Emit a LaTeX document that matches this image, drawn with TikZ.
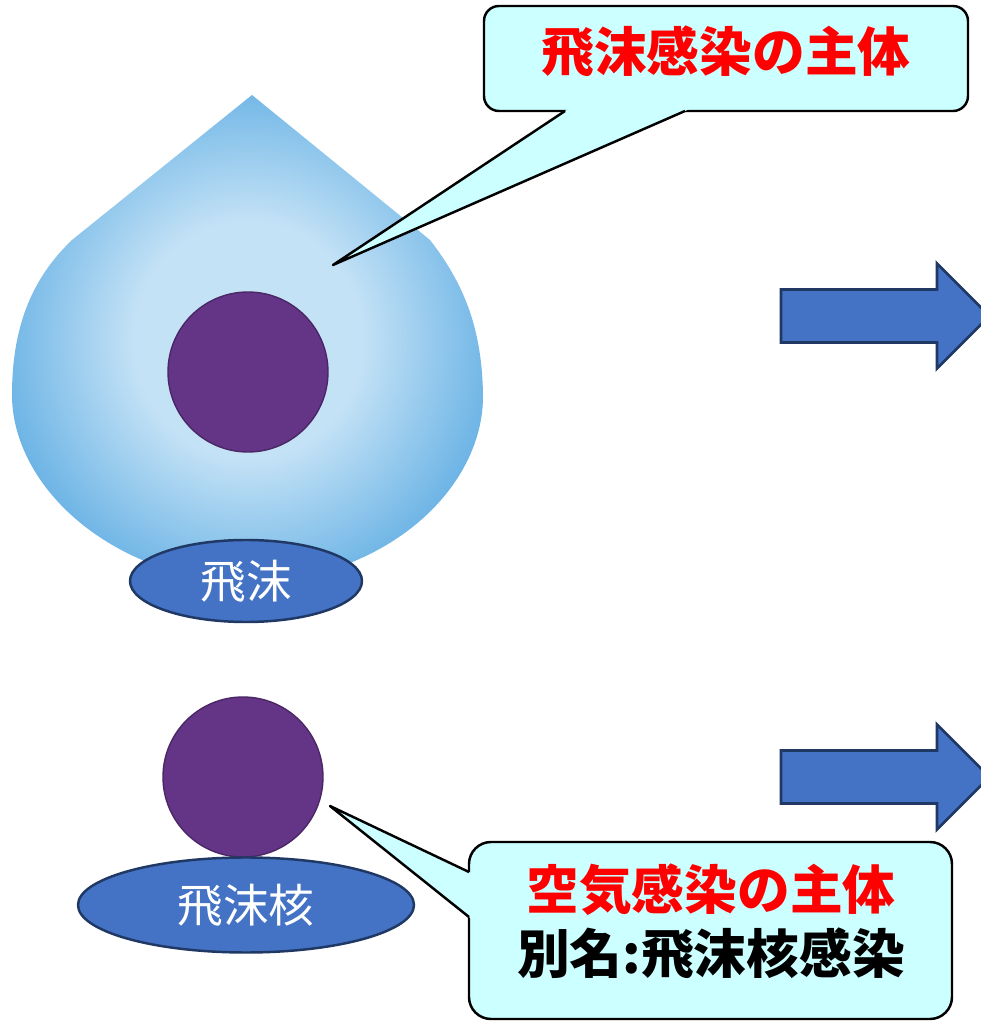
\documentclass[tikz,border=0pt]{standalone}
\usepackage{fontspec}
\usetikzlibrary{shapes.geometric,calc}
\newfontfamily\jpfont{Noto Sans CJK JP}
\definecolor{dropinner}{RGB}{196,226,246}
\definecolor{dropouter}{RGB}{86,168,225}
\definecolor{corepurple}{RGB}{100,52,134}
\definecolor{boxblue}{RGB}{68,114,196}
\definecolor{boxedge}{RGB}{31,56,100}
\definecolor{notefill}{RGB}{204,255,255}
\pgfdeclareradialshading{dropglow}{\pgfpoint{0bp}{0bp}}{color(0bp)=(dropinner); color(12bp)=(dropinner); color(30bp)=(dropouter); color(50bp)=(dropouter)}

\begin{document}
\begin{tikzpicture}[labelstyle/.style={ellipse, draw=boxedge, fill=boxblue, line width=0.7pt, inner sep=0pt, text=white, font=\jpfont\fontsize{13pt}{13pt}\selectfont},
  notestyle/.style={align=center, font=\jpfont\bfseries\fontsize{15pt}{18pt}\selectfont},
  notebox/.style={draw=black, fill=notefill, line width=0.7pt},
  noteline/.style={draw=black, line width=0.7pt, line join=round},
  blockarrow/.style={draw=boxedge, fill=boxblue, line width=0.8pt},
  corestyle/.style={circle, fill=corepurple, draw=corepurple!75!black, minimum size=1.6cm, inner sep=0pt}]
  \useasboundingbox (0,0) rectangle (9.81,10.21);
  \fill [white] (0,0) rectangle (9.81,10.21);

  % droplet
  \shade [shading=dropglow] (2.52,9.26) -- (0.72,7.81) .. controls (0.30,7.41) and (0.12,6.91) .. (0.12,6.26)
    .. controls (0.12,5.41) and (1.00,4.46) .. (2.50,4.36)
    .. controls (4.00,4.46) and (4.84,5.41) .. (4.83,6.26)
    .. controls (4.82,6.91) and (4.65,7.36) .. (4.30,7.81) -- cycle;
  \node [corestyle] (dropcore) at (2.48,6.49) {};
  \node [labelstyle, minimum width=2.32cm, minimum height=0.82cm] (droplabel) at (2.46,4.40) {飛沫};

  % droplet nucleus
  \node [corestyle] (nucleus) at (2.43,2.44) {};
  \node [labelstyle, minimum width=3.36cm, minimum height=0.95cm] (nucleuslabel) at (2.46,1.16) {飛沫核};

  % arrows
  \foreach \y in {7.05,2.44}
    \draw [blockarrow] (7.81,\y+0.265) -- (9.37,\y+0.265) -- (9.37,\y+0.525) -- (9.895,\y)
      -- (9.37,\y-0.525) -- (9.37,\y-0.265) -- (7.81,\y-0.265) -- cycle;

  % callouts: box, then the pointer over its edge
  \coordinate (droptip) at (3.33,7.56);
  \draw [notebox, rounded corners=0.15cm] (4.84,9.10) rectangle (9.68,10.15);
  \fill [notefill] ($(droptip)!1.03!(5.65,9.10)$) -- (droptip) -- ($(droptip)!1.03!(6.85,9.10)$) -- cycle;
  \draw [noteline] (5.65,9.10) -- (droptip) -- (6.85,9.10);
  \node [notestyle, text=red] (dropnote) at (7.26,9.69) {飛沫感染の主体};

  \coordinate (nucleustip) at (3.30,2.15);
  \draw [notebox, rounded corners=0.22cm] (4.69,0.02) rectangle (9.52,1.79);
  \fill [notefill] ($(nucleustip)!1.03!(4.69,1.49)$) -- (nucleustip) -- ($(nucleustip)!1.03!(4.69,1.04)$) -- cycle;
  \draw [noteline] (4.69,1.49) -- (nucleustip) -- (4.69,1.04);
  \node [notestyle] (nucleusnote) at (7.11,0.995) {\textcolor{red}{空気感染の主体}\\別名:飛沫核感染};
\end{tikzpicture}
\end{document}
